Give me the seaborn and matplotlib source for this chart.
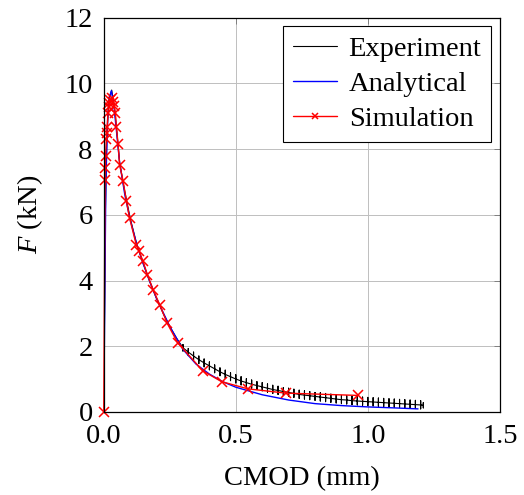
"""F vs CMOD: experiment, analytical model and simulation."""

import matplotlib

matplotlib.use("Agg")
import matplotlib.pyplot as plt
import numpy as np
import pandas as pd
import seaborn as sns

# --- Experiment: loading branch + smooth softening part
exp_cmod = [0.0, 0.003, 0.006, 0.012, 0.02, 0.03, 0.04, 0.05, 0.06, 0.075,
            0.09, 0.10, 0.125, 0.15, 0.175, 0.20, 0.225, 0.25, 0.275]
exp_force = [0.0, 3.0, 6.0, 8.5, 9.5, 9.8, 9.3, 8.5, 7.6, 6.9,
             6.3, 5.9, 5.1, 4.5, 3.95, 3.45, 3.0, 2.6, 2.25]

# noisy tail of the experiment: mean level and extent of each jitter stroke
tail_cmod = [0.300, 0.320, 0.340, 0.360, 0.380, 0.400, 0.420, 0.440, 0.460,
             0.480, 0.500, 0.520, 0.540, 0.560, 0.580, 0.600, 0.620, 0.640,
             0.660, 0.680, 0.700, 0.720, 0.740, 0.760, 0.780, 0.800, 0.820,
             0.840, 0.860, 0.880, 0.900, 0.920, 0.940, 0.960, 0.980, 1.000,
             1.020, 1.040, 1.060, 1.080, 1.100, 1.120, 1.140, 1.160, 1.180,
             1.200, 1.210]
tail_mid = [1.95, 1.82, 1.70, 1.59, 1.49, 1.40, 1.31, 1.22, 1.14,
            1.07, 1.00, 0.94, 0.89, 0.84, 0.80, 0.76, 0.72, 0.68,
            0.65, 0.62, 0.59, 0.56, 0.53, 0.51, 0.49, 0.47, 0.45,
            0.43, 0.41, 0.39, 0.37, 0.36, 0.34, 0.33, 0.32, 0.31,
            0.30, 0.29, 0.28, 0.27, 0.26, 0.25, 0.24, 0.23, 0.22,
            0.21, 0.20]
tail_high = [2.05, 1.93, 1.82, 1.70, 1.61, 1.52, 1.43, 1.34, 1.27,
             1.19, 1.13, 1.07, 1.01, 0.97, 0.92, 0.89, 0.85, 0.81,
             0.78, 0.74, 0.72, 0.69, 0.66, 0.64, 0.62, 0.59, 0.58,
             0.56, 0.54, 0.52, 0.50, 0.49, 0.47, 0.46, 0.45, 0.44,
             0.43, 0.42, 0.41, 0.40, 0.39, 0.38, 0.37, 0.36, 0.35,
             0.34, 0.28]
tail_low = [1.85, 1.71, 1.58, 1.47, 1.37, 1.28, 1.19, 1.10, 1.02,
            0.95, 0.88, 0.82, 0.77, 0.72, 0.68, 0.64, 0.60, 0.56,
            0.53, 0.50, 0.47, 0.44, 0.41, 0.39, 0.37, 0.35, 0.33,
            0.31, 0.29, 0.27, 0.25, 0.24, 0.22, 0.21, 0.20, 0.19,
            0.18, 0.17, 0.16, 0.15, 0.14, 0.13, 0.12, 0.11, 0.10,
            0.09, 0.12]

# --- Analytical model
ana_cmod = [0.0, 0.008, 0.015, 0.022, 0.029, 0.04, 0.05, 0.06, 0.08, 0.10,
            0.125, 0.15, 0.175, 0.20, 0.25, 0.30, 0.35, 0.40, 0.45, 0.50,
            0.60, 0.70, 0.80, 0.90, 1.00, 1.10, 1.19]
ana_force = [0.0, 7.0, 9.0, 9.6, 9.78, 9.2, 8.4, 7.6, 6.6, 5.85,
             5.1, 4.5, 3.95, 3.45, 2.6, 1.9, 1.45, 1.15, 0.92, 0.75,
             0.52, 0.36, 0.25, 0.19, 0.15, 0.12, 0.09]

# --- Simulation
sim_cmod = [0.0, 0.005, 0.006, 0.007, 0.010, 0.012, 0.013, 0.016, 0.018,
            0.021, 0.025, 0.030, 0.035, 0.040, 0.044, 0.048, 0.054, 0.060,
            0.073, 0.086, 0.098, 0.123, 0.134, 0.149, 0.165, 0.187, 0.212,
            0.240, 0.280, 0.375, 0.446, 0.546, 0.689, 0.963]
sim_force = [0.0, 7.07, 7.44, 7.80, 8.30, 8.50, 8.66, 9.10, 9.27,
             9.42, 9.50, 9.55, 9.45, 9.30, 9.10, 8.66, 8.17, 7.53,
             7.04, 6.41, 5.90, 5.09, 4.89, 4.58, 4.18, 3.72, 3.26,
             2.70, 2.10, 1.25, 0.92, 0.70, 0.57, 0.50]

FS = 20.5


def main() -> None:
    sns.set_theme(style="white")
    plt.rcParams.update({
        "font.family": ["Liberation Serif", "DejaVu Serif"],
        "mathtext.fontset": "custom",
        "mathtext.rm": "Liberation Serif",
        "mathtext.it": "Liberation Serif:italic",
        "font.size": FS,
        "text.color": "black",
        "axes.labelcolor": "black",
        "xtick.color": "black",
        "ytick.color": "black",
    })

    # each stroke: mid -> high -> low -> mid at one CMOD value
    stroke_x = np.repeat(tail_cmod, 4)
    stroke_y = np.column_stack([tail_mid, tail_high, tail_low, tail_mid]).ravel()
    exp = pd.DataFrame({
        "cmod": np.concatenate([exp_cmod, stroke_x]),
        "force": np.concatenate([exp_force, stroke_y]),
    })
    ana = pd.DataFrame({"cmod": ana_cmod, "force": ana_force})
    sim = pd.DataFrame({"cmod": sim_cmod, "force": sim_force})

    fig = plt.figure(figsize=(5.24, 4.95), dpi=100)
    ax = fig.add_axes([0.198, 0.168, 0.756, 0.796])

    sns.lineplot(data=exp, x="cmod", y="force", ax=ax, sort=False,
                 estimator=None, color="black", lw=0.8, label="Experiment")
    sns.lineplot(data=ana, x="cmod", y="force", ax=ax, sort=False,
                 estimator=None, color="#0000ff", lw=1.0, label="Analytical")
    sns.lineplot(data=sim, x="cmod", y="force", ax=ax, sort=False,
                 estimator=None, color="#ff0000", lw=1.0, marker="x",
                 markersize=7, markeredgewidth=1.1,
                 markeredgecolor="#ff0000", label="Simulation", clip_on=False)

    ax.set_xlim(0, 1.5)
    ax.set_ylim(0, 12)
    ax.set_xticks([0.0, 0.5, 1.0, 1.5])
    ax.set_xticklabels(["0.0", "0.5", "1.0", "1.5"])
    ax.set_yticks(range(0, 13, 2))
    ax.grid(True, color="#bfbfbf", lw=0.7)
    ax.tick_params(direction="in", top=True, right=True, length=4,
                   width=0.7, labelsize=FS, color="#808080")
    ax.tick_params(axis="y", pad=8)
    ax.tick_params(axis="x", pad=9)
    for sp in ax.spines.values():
        sp.set_color("black")
        sp.set_linewidth(0.9)

    ax.set_xlabel("CMOD (mm)", fontsize=FS, labelpad=12)
    ax.set_ylabel("$F$ (kN)", fontsize=FS, labelpad=14)

    leg = ax.legend(loc="upper right", fontsize=FS, frameon=True,
                    fancybox=False, edgecolor="black", framealpha=1,
                    handlelength=1.55, borderpad=0.35, labelspacing=0.32,
                    handletextpad=0.4, borderaxespad=0.3, markerscale=0.6)
    leg.get_frame().set_linewidth(0.8)

    fig.savefig("out.png", dpi=100)
    plt.close(fig)


if __name__ == "__main__":
    main()
